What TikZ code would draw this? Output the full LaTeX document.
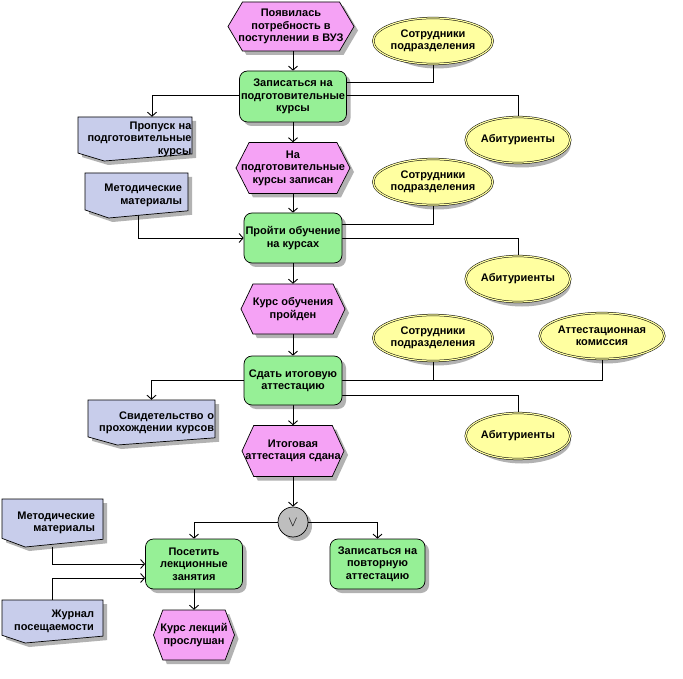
\documentclass[tikz,border=0pt]{standalone}
\usepackage{fontspec}
\setmainfont{Liberation Sans}
\usetikzlibrary{arrows.meta,shapes.geometric,calc}
\pgfdeclarelayer{shadowlayer}
\pgfdeclarelayer{linelayer}
\pgfsetlayers{shadowlayer,linelayer,main}
\definecolor{evtc}{RGB}{245,162,245}
\definecolor{fnc}{RGB}{150,240,150}
\definecolor{docc}{RGB}{200,205,235}
\definecolor{orgc}{RGB}{255,255,160}
\definecolor{xorc}{RGB}{190,190,190}
\tikzset{
  every node/.style={font=\fontsize{11}{12.4}\selectfont\bfseries},
  shadowc/.style={fill=black!30},
  evtshape/.style={fill=evtc,draw=black,line width=0.7pt},
  evttext/.style={align=center,inner sep=0pt},
  fnbox/.style={draw=black,line width=0.7pt,fill=fnc,rounded corners=8pt,align=center,inner sep=0pt},
  docshape/.style={fill=docc,draw=black,line width=0.7pt},
  doctext/.style={align=right,inner ysep=0pt},
  orgbox/.style={ellipse,minimum width=97pt,minimum height=46pt,inner sep=0pt,draw=black,line width=0.5pt,double=orgc,double distance=1.2pt,fill=orgc,align=center},
  xorbox/.style={circle,minimum size=30pt,inner sep=0pt,draw=black,line width=0.7pt,fill=xorc,font=\Large},
  conn/.style={line width=0.9pt,draw=black},
  arr/.style={conn,-{Straight Barb[length=4pt,width=9pt]}}
}
% event: name, cx, cy, w, h, text
\newcommand\Evt[6]{%
  \pgfmathsetmacro\evtin{0.115*#4}%
  \begin{pgfonlayer}{shadowlayer}
  \fill[shadowc,shift={(4,4)}] ({#2-#4/2},#3) -- ({#2-#4/2+\evtin},{#3-#5/2}) -- ({#2+#4/2-\evtin},{#3-#5/2}) -- ({#2+#4/2},#3) -- ({#2+#4/2-\evtin},{#3+#5/2}) -- ({#2-#4/2+\evtin},{#3+#5/2}) -- cycle;
  \end{pgfonlayer}
  \filldraw[evtshape] ({#2-#4/2},#3) -- ({#2-#4/2+\evtin},{#3-#5/2}) -- ({#2+#4/2-\evtin},{#3-#5/2}) -- ({#2+#4/2},#3) -- ({#2+#4/2-\evtin},{#3+#5/2}) -- ({#2-#4/2+\evtin},{#3+#5/2}) -- cycle;
  \node[evttext,minimum width=#4pt,minimum height=#5pt] (#1) at (#2,#3) {#6};
}
% function: name, cx, cy, w, h, text
\newcommand\Fn[6]{%
  \begin{pgfonlayer}{shadowlayer}
  \fill[shadowc,rounded corners=8pt] ({#2-#4/2+4},{#3-#5/2+4}) rectangle ({#2+#4/2+4},{#3+#5/2+4});
  \end{pgfonlayer}
  \node[fnbox,minimum width=#4pt,minimum height=#5pt] (#1) at (#2,#3) {#6};
}
% document: name, left, top, w, h, right margin, text
\newcommand\Doc[7]{%
  \pgfmathsetmacro\doctw{#4-2*#6}%
  \begin{pgfonlayer}{shadowlayer}
  \fill[shadowc,shift={(4,4)}] (#2,#3) -- ({#2+#4},#3) -- ({#2+#4},{#3+0.84*#5}) -- ({#2+0.23*#4},{#3+#5}) -- (#2,{#3+0.82*#5}) -- cycle;
  \end{pgfonlayer}
  \filldraw[docshape] (#2,#3) -- ({#2+#4},#3) -- ({#2+#4},{#3+0.84*#5}) -- ({#2+0.23*#4},{#3+#5}) -- (#2,{#3+0.82*#5}) -- cycle;
  \node[doctext,inner xsep=#6pt,text width=\doctw pt,minimum width=#4pt,minimum height=#5pt] (#1) at ({#2+#4/2},{#3+#5/2}) {#7};
}
% organisation: name, cx, cy, text
\newcommand\Org[4]{%
  \begin{pgfonlayer}{shadowlayer}
  \fill[shadowc] ({#2+4},{#3+4}) ellipse [x radius=49pt, y radius=23.5pt];
  \end{pgfonlayer}
  \node[orgbox] (#1) at (#2,#3) {#4};
}
\begin{document}
\begin{tikzpicture}[x=1pt,y=-1pt]
\begin{pgfonlayer}{shadowlayer}
\fill[white] (0,0) rectangle (683,679);
\end{pgfonlayer}
\useasboundingbox (0,0) rectangle (683,679);

\Evt{E1}{291}{26.5}{126}{49}{Появилась\\потребность в\\поступлении в ВУЗ}
\Fn{F1}{293}{96.5}{107}{51}{Записаться на\\подготовительные\\курсы}
\Doc{P1}{78}{117}{114}{44}{0.5}{Пропуск на\\подготовительные\\курсы}
\Org{S1}{433}{41}{Сотрудники\\подразделения}
\Org{A1}{518}{140}{Абитуриенты}
\Evt{E2}{293}{168}{114}{51}{На\\подготовительные\\курсы записан}
\Doc{M1}{85}{173}{103}{45}{6}{Методические\\материалы}
\Org{S2}{433}{182}{Сотрудники\\подразделения}
\Fn{F2}{293}{238}{98}{50}{Пройти обучение\\на курсах}
\Org{A2}{518}{279}{Абитуриенты}
\Evt{E3}{293}{309}{104}{50}{Курс обучения\\пройден}
\Org{S3}{433}{338}{Сотрудники\\подразделения}
\Org{AK}{602}{336}{Аттестационная\\комиссия}
\Fn{F3}{293}{380.5}{98}{49}{Сдать итоговую\\аттестацию}
\Doc{Sv}{88}{400}{127}{45}{1}{Свидетельство о\\прохождении курсов}
\Org{A3}{518}{436}{Абитуриенты}
\Evt{E4}{293}{451}{102}{51}{Итоговая\\аттестация сдана}
\begin{pgfonlayer}{shadowlayer}
\fill[shadowc] (297,526) circle [radius=15pt];
\end{pgfonlayer}
\node[xorbox] (X) at (293,522) {$\vee$};
\Fn{F4}{194}{564}{97}{50}{Посетить\\лекционные\\занятия}
\Fn{F5}{377.5}{564}{95}{50}{Записаться на\\повторную\\аттестацию}
\Doc{M2}{2}{499}{101}{48}{8}{Методические\\материалы}
\Doc{J}{2}{600}{101}{43}{9}{Журнал\\посещаемости}
\Evt{E5}{194}{635}{81}{50}{Курс лекций\\прослушан}

\begin{pgfonlayer}{linelayer}
\draw[arr] (E1.south -| F1.north) -- (F1.north);
\draw[arr] ([yshift=1.5pt]F1.center) -| ([xshift=17pt]P1.north);
\draw[conn] ([yshift=14.5pt]F1.center) -| (S1);
\draw[conn] ([yshift=1.5pt]F1.center) -| (A1);
\draw[arr] (F1) -- (E2.north);
\draw[arr] (E2) -- (F2.north);
\draw[arr] ([xshift=2pt]M1.center) |- (F2.west);
\draw[conn] ([yshift=14pt]F2.center) -| (S2);
\draw[conn] (F2) -| (A2);
\draw[arr] (F2) -- (E3.north);
\draw[arr] (E3) -- (F3.north);
\draw[arr] (F3) -| (Sv.north);
\draw[conn] (F3) -| (S3);
\draw[conn] (F3) -| (AK);
\draw[conn] ([yshift=-14.5pt]F3.center) -| (A3);
\draw[arr] (F3) -- (E4.north);
\draw[arr] (E4) -- (X.north);
\draw[arr] (X) -| (F4.north);
\draw[arr] (X) -| (F5.north);
\draw[arr] (M2) |- (F4.west);
\draw[arr] (J) |- ([yshift=-14pt]F4.west);
\draw[arr] (F4) -- (E5.north);
\end{pgfonlayer}
\end{tikzpicture}
\end{document}
